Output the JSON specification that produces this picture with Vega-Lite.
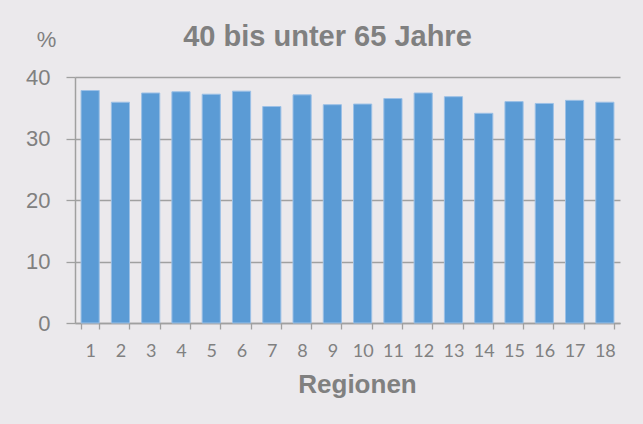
{
  "$schema": "https://vega.github.io/schema/vega-lite/v6.json",
  "width": 545,
  "height": 246,
  "autosize": {"type": "none"},
  "padding": {"left": 75, "top": 77, "right": 23, "bottom": 101},
  "background": "#ebe9ec",
  "title": {
    "text": "40 bis unter 65 Jahre",
    "font": "Liberation Sans",
    "fontSize": 29,
    "fontWeight": "bold",
    "color": "#808080",
    "anchor": "middle",
    "frame": "group",
    "dx": -20,
    "baseline": "alphabetic",
    "offset": -47
  },
  "data": {
    "values": [
      {"region": 1, "value": 37.8},
      {"region": 2, "value": 35.9},
      {"region": 3, "value": 37.4},
      {"region": 4, "value": 37.6},
      {"region": 5, "value": 37.2},
      {"region": 6, "value": 37.7},
      {"region": 7, "value": 35.2},
      {"region": 8, "value": 37.1},
      {"region": 9, "value": 35.5},
      {"region": 10, "value": 35.6},
      {"region": 11, "value": 36.5},
      {"region": 12, "value": 37.4},
      {"region": 13, "value": 36.8},
      {"region": 14, "value": 34.1},
      {"region": 15, "value": 36.0},
      {"region": 16, "value": 35.7},
      {"region": 17, "value": 36.2},
      {"region": 18, "value": 35.9}
    ]
  },
  "mark": {"type": "bar", "color": "#5b9bd5", "stroke": "#9cc0e6", "strokeWidth": 1},
  "encoding": {
    "x": {
      "field": "region",
      "type": "ordinal",
      "scale": {"paddingInner": 0.4, "paddingOuter": 0.2},
      "axis": {
        "title": "Regionen",
        "titleFont": "Liberation Sans",
        "titleFontSize": 26,
        "titleFontWeight": "bold",
        "titleColor": "#808080",
        "titleAlign": "center",
        "titleBaseline": "alphabetic",
        "titleX": 282,
        "titleY": 69,
        "labelAngle": 0,
        "labelFont": "Lato",
        "labelFontSize": 18,
        "labelColor": "#808080",
        "labelPadding": 13,
        "tickBand": "extent",
        "tickSize": 6,
        "tickColor": "#a0a0a0",
        "tickWidth": 1.3,
        "domainColor": "#a0a0a0",
        "domainWidth": 1.5,
        "grid": false
      }
    },
    "y": {
      "field": "value",
      "type": "quantitative",
      "scale": {"domain": [0, 40], "nice": false},
      "axis": {
        "values": [0, 10, 20, 30, 40],
        "title": "%",
        "titleFont": "Liberation Sans",
        "titleFontSize": 22,
        "titleFontWeight": "normal",
        "titleColor": "#808080",
        "titleAngle": 0,
        "titleAlign": "center",
        "titleBaseline": "alphabetic",
        "titleX": -29,
        "titleY": -31,
        "labelFont": "Liberation Sans",
        "labelFontSize": 22,
        "labelColor": "#808080",
        "labelPadding": 16,
        "tickSize": 9,
        "tickColor": "#a0a0a0",
        "tickWidth": 1.3,
        "domainColor": "#a0a0a0",
        "domainWidth": 1.5,
        "grid": true,
        "gridColor": "#a0a0a0",
        "gridWidth": 1.5
      }
    }
  },
  "config": {"view": {"stroke": null}}
}
